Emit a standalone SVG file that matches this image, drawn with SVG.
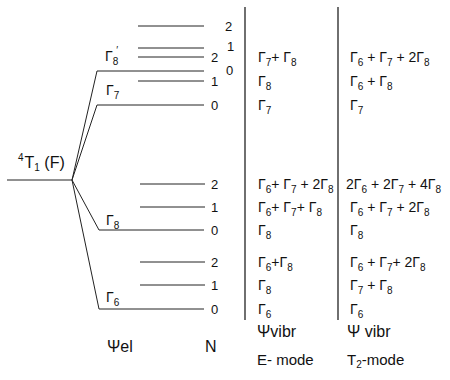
<svg xmlns="http://www.w3.org/2000/svg" width="450" height="380" viewBox="0 0 450 380">
  <style>
    .ln { stroke: #222; stroke-width: 1; fill: none; }
    .col { stroke: #222; stroke-width: 1.3; }
    text { font-family: "Liberation Sans", Arial, sans-serif; font-size: 14px; fill: #111; }
    .sub { font-size: 10px; }
    .num { font-size: 13px; }
    .head { font-size: 16px; }
    .mode { font-size: 15px; }
    .term { font-size: 16px; }
  </style>
  <rect width="450" height="380" fill="#fff"/>

  <!-- splitting of the 4T1(F) level -->
  <g id="connectors">
    <line class="ln" x1="7" y1="180" x2="72" y2="180"/>
    <polyline class="ln" points="72,180 97,71 204,71"/>
    <polyline class="ln" points="72,180 97,105 204,105"/>
    <polyline class="ln" points="72,180 99,230 204,230"/>
    <polyline class="ln" points="72,180 99,309 204,309"/>
    <!-- vibronic sublevels -->
    <line class="ln" x1="138" y1="26" x2="204" y2="26"/>
    <line class="ln" x1="138" y1="48" x2="204" y2="48"/>
    <line class="ln" x1="138" y1="57" x2="204" y2="57"/>
    <line class="ln" x1="138" y1="81" x2="204" y2="81"/>
    <line class="ln" x1="140" y1="184" x2="205" y2="184"/>
    <line class="ln" x1="140" y1="207" x2="205" y2="207"/>
    <line class="ln" x1="140" y1="262" x2="205" y2="262"/>
    <line class="ln" x1="140" y1="285" x2="205" y2="285"/>
    <!-- column separators -->
    <line class="col" x1="245" y1="7" x2="245" y2="320"/>
    <line class="col" x1="338" y1="7" x2="338" y2="320"/>
  </g>

  <g id="ground-term">
    <text class="term" x="18" y="168"><tspan class="sub" dy="-7">4</tspan><tspan dy="7" dx="1">T</tspan><tspan class="sub" dy="3">1</tspan><tspan dy="-3"> (F)</tspan></text>
  </g>

  <g id="electronic-labels">
    <text x="105" y="61">Γ<tspan class="sub" dy="4">8</tspan><tspan dy="-11" dx="-2" class="sub">′</tspan></text>
    <text x="106" y="95">Γ<tspan class="sub" dy="4">7</tspan></text>
    <text x="106" y="225">Γ<tspan class="sub" dy="4">8</tspan></text>
    <text x="106" y="302">Γ<tspan class="sub" dy="4">6</tspan></text>
  </g>

  <g id="quantum-numbers">
    <text class="num" x="225" y="31">2</text>
    <text class="num" x="227" y="51">1</text>
    <text class="num" x="211" y="62">2</text>
    <text class="num" x="226" y="75">0</text>
    <text class="num" x="211" y="86">1</text>
    <text class="num" x="211" y="110">0</text>
    <text class="num" x="211" y="189">2</text>
    <text class="num" x="211" y="212">1</text>
    <text class="num" x="211" y="235">0</text>
    <text class="num" x="211" y="267">2</text>
    <text class="num" x="211" y="290">1</text>
    <text class="num" x="211" y="314">0</text>
  </g>

  <g id="e-mode">
    <text x="258" y="62">Γ<tspan class="sub" dy="4">7</tspan><tspan dy="-4">+ Γ</tspan><tspan class="sub" dy="4">8</tspan></text>
    <text x="258" y="86">Γ<tspan class="sub" dy="4">8</tspan></text>
    <text x="258" y="110">Γ<tspan class="sub" dy="4">7</tspan></text>
    <text x="258" y="189">Γ<tspan class="sub" dy="4">6</tspan><tspan dy="-4">+ Γ</tspan><tspan class="sub" dy="4">7</tspan><tspan dy="-4"> + 2Γ</tspan><tspan class="sub" dy="4">8</tspan></text>
    <text x="258" y="212">Γ<tspan class="sub" dy="4">6</tspan><tspan dy="-4">+ Γ</tspan><tspan class="sub" dy="4">7</tspan><tspan dy="-4">+ Γ</tspan><tspan class="sub" dy="4">8</tspan></text>
    <text x="258" y="235">Γ<tspan class="sub" dy="4">8</tspan></text>
    <text x="258" y="267">Γ<tspan class="sub" dy="4">6</tspan><tspan dy="-4">+Γ</tspan><tspan class="sub" dy="4">8</tspan></text>
    <text x="258" y="290">Γ<tspan class="sub" dy="4">8</tspan></text>
    <text x="258" y="314">Γ<tspan class="sub" dy="4">6</tspan></text>
  </g>

  <g id="t2-mode">
    <text x="350" y="62">Γ<tspan class="sub" dy="4">6</tspan><tspan dy="-4"> + Γ</tspan><tspan class="sub" dy="4">7</tspan><tspan dy="-4"> + 2Γ</tspan><tspan class="sub" dy="4">8</tspan></text>
    <text x="350" y="86">Γ<tspan class="sub" dy="4">6</tspan><tspan dy="-4"> + Γ</tspan><tspan class="sub" dy="4">8</tspan></text>
    <text x="350" y="110">Γ<tspan class="sub" dy="4">7</tspan></text>
    <text x="346" y="189">2Γ<tspan class="sub" dy="4">6</tspan><tspan dy="-4"> + 2Γ</tspan><tspan class="sub" dy="4">7</tspan><tspan dy="-4"> + 4Γ</tspan><tspan class="sub" dy="4">8</tspan></text>
    <text x="350" y="212">Γ<tspan class="sub" dy="4">6</tspan><tspan dy="-4"> + Γ</tspan><tspan class="sub" dy="4">7</tspan><tspan dy="-4"> + 2Γ</tspan><tspan class="sub" dy="4">8</tspan></text>
    <text x="350" y="235">Γ<tspan class="sub" dy="4">8</tspan></text>
    <text x="350" y="267">Γ<tspan class="sub" dy="4">6</tspan><tspan dy="-4"> + Γ</tspan><tspan class="sub" dy="4">7</tspan><tspan dy="-4">+ 2Γ</tspan><tspan class="sub" dy="4">8</tspan></text>
    <text x="350" y="290">Γ<tspan class="sub" dy="4">7</tspan><tspan dy="-4"> + Γ</tspan><tspan class="sub" dy="4">8</tspan></text>
    <text x="350" y="314">Γ<tspan class="sub" dy="4">6</tspan></text>
  </g>

  <g id="headings">
    <text x="107" y="352" class="head">Ψel</text>
    <text x="205" y="352" class="head">N</text>
    <text x="257" y="337" class="head">Ψvibr</text>
    <text x="257" y="365" class="mode">E- mode</text>
    <text x="347" y="337" class="head">Ψ vibr</text>
    <text x="347" y="365" class="mode">T<tspan class="sub" dy="3">2</tspan><tspan dy="-3">-mode</tspan></text>
  </g>
</svg>
